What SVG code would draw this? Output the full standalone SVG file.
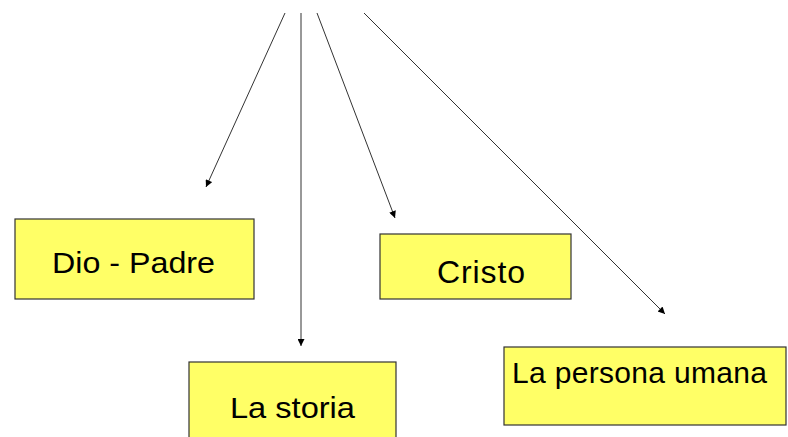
<svg xmlns="http://www.w3.org/2000/svg" width="788" height="437" viewBox="0 0 788 437">
<style>
.box{fill:#FFFF66;stroke:#333333;stroke-width:1.2}
.lbl{font-family:"Liberation Sans","DejaVu Sans",sans-serif;fill:#000}
.edge{stroke:#333333;stroke-width:1;fill:none;marker-end:url(#ah)}
</style>
<defs>
<marker id="ah" viewBox="0 0 10 10" refX="10" refY="5" markerWidth="9" markerHeight="7" markerUnits="userSpaceOnUse" orient="auto">
<path d="M0,0 L10,5 L0,10 z" fill="#000"/>
</marker>
</defs>
<rect width="788" height="437" fill="#fff"/>
<g id="connectors">
<line class="edge" x1="285" y1="13" x2="206" y2="187"/>
<line class="edge" x1="301" y1="13" x2="301" y2="346"/>
<line class="edge" x1="317" y1="13" x2="395" y2="218"/>
<line class="edge" x1="364" y1="13" x2="665" y2="314"/>
</g>
<g id="dio-padre">
<rect class="box" x="15" y="219" width="239" height="80"/>
<text class="lbl" x="52" y="273" font-size="30" textLength="163" lengthAdjust="spacingAndGlyphs">Dio - Padre</text>
</g>
<g id="cristo">
<rect class="box" x="380" y="234" width="191" height="65"/>
<text class="lbl" x="437" y="283" font-size="32" textLength="88">Cristo</text>
</g>
<g id="la-storia">
<rect class="box" x="189" y="362" width="207" height="80"/>
<text class="lbl" x="230" y="418" font-size="30" textLength="125" lengthAdjust="spacingAndGlyphs">La storia</text>
</g>
<g id="la-persona-umana">
<rect class="box" x="504" y="347" width="282" height="78"/>
<text class="lbl" x="512" y="383" font-size="30" textLength="255">La persona umana</text>
</g>
</svg>
